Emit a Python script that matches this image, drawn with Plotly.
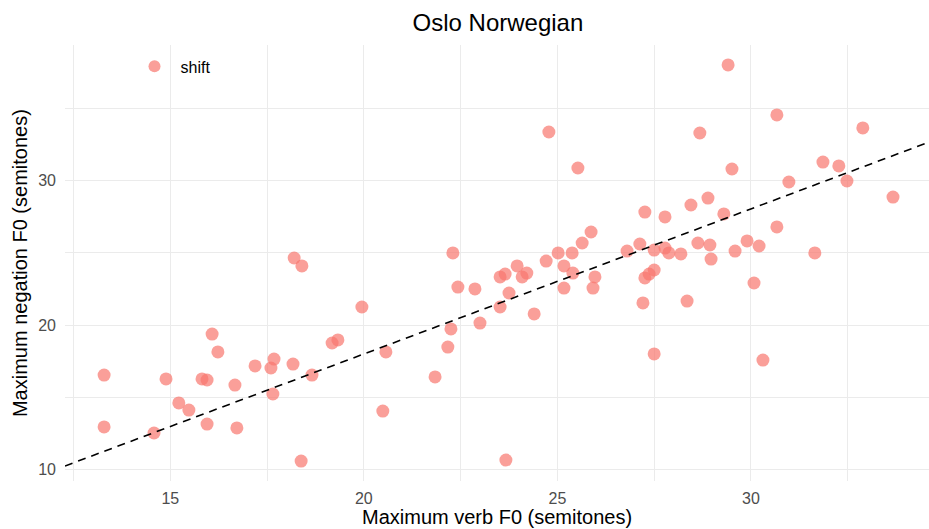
import plotly.graph_objects as go

# Maximum verb F0 (semitones) and Maximum negation F0 (semitones), condition "shift"
verb_f0 = [
    13.29, 13.29, 14.58, 14.89, 15.22, 15.48, 15.82, 15.95, 15.95, 16.08,
    16.23, 16.67, 16.72, 17.19, 17.60, 17.68, 17.65, 18.20, 18.40, 18.17,
    18.66, 18.38, 19.18, 19.33, 19.95, 20.57, 20.49, 21.84, 22.30, 22.43,
    22.87, 23.00, 22.25, 22.17, 23.52, 23.52, 23.65, 23.75, 23.96, 24.09,
    24.21, 24.40, 24.71, 25.02, 25.38, 25.17, 25.40, 25.17, 25.64, 25.87,
    25.97, 25.92, 25.53, 24.78, 23.67, 27.26, 27.78, 26.80, 27.13, 27.50,
    27.78, 27.88, 28.19, 28.45, 28.89, 29.30, 28.63, 28.94, 28.97, 29.59,
    29.90, 30.21, 30.67, 27.26, 27.37, 27.50, 27.21, 28.35, 27.50, 30.08,
    31.65, 33.67, 32.48, 30.98, 31.86, 32.27, 32.89, 30.67, 29.51, 28.68,
    29.41, 30.31,
]
neg_f0 = [
    16.55, 12.96, 12.54, 16.28, 14.62, 14.13, 16.28, 16.21, 13.16, 19.39,
    18.15, 15.86, 12.89, 17.18, 17.04, 17.66, 15.24, 24.65, 24.10, 17.31,
    16.55, 10.60, 18.77, 18.98, 21.26, 18.15, 14.06, 16.42, 25.00, 22.64,
    22.51, 20.15, 19.74, 18.49, 21.26, 23.34, 23.54, 22.23, 24.10, 23.34,
    23.61, 20.78, 24.44, 25.00, 25.00, 24.10, 23.61, 22.57, 25.69, 26.45,
    23.34, 22.57, 30.88, 33.37, 10.67, 27.83, 27.49, 25.13, 25.62, 25.20,
    25.34, 25.00, 24.93, 28.32, 28.80, 27.70, 25.69, 25.55, 24.58, 25.13,
    25.83, 25.48, 26.80, 23.27, 23.54, 23.82, 21.54, 21.67, 18.01, 22.92,
    25.00, 28.87, 29.98, 29.91, 31.29, 31.02, 33.65, 34.55, 30.81, 33.30,
    38.01, 17.59,
]
series_name = "shift"

# reference line (intercept, slope)
line_intercept = -2.07
line_slope = 1.004

x_range = [12.28, 34.6]
y_range = [9.22, 39.39]
x_ticks = [15, 20, 25, 30]
y_ticks = [10, 20, 30]

FONT = "Liberation Sans, Arial, Helvetica, sans-serif"

fig = go.Figure()
fig.add_trace(go.Scatter(
    x=verb_f0, y=neg_f0, mode="markers", name=series_name,
    marker=dict(color="#F8766D", opacity=0.7, size=13, line=dict(width=0)),
))
line_x = list(x_range)
line_y = [line_intercept + line_slope * v for v in line_x]
fig.add_trace(go.Scatter(
    x=line_x, y=line_y, mode="lines", showlegend=False,
    line=dict(color="black", width=1.6, dash="8px,6px"), hoverinfo="skip",
))

fig.update_layout(
    width=929, height=529,
    margin=dict(l=65, r=0, t=45, b=48, autoexpand=False),
    paper_bgcolor="white", plot_bgcolor="white",
    font=dict(family=FONT, color="black"),
    title=dict(text="Oslo Norwegian", x=0.536, xanchor="center",
               y=0.958, yanchor="middle", yref="container",
               font=dict(size=24, color="black", family=FONT)),
    showlegend=True,
    legend=dict(x=0.0735, y=0.99, xanchor="left", yanchor="top",
                bgcolor="rgba(0,0,0,0)", font=dict(size=16, color="black"),
                itemsizing="constant", itemwidth=42),
    xaxis=dict(
        range=x_range, tickvals=x_ticks, showline=False, zeroline=False,
        showgrid=True, gridcolor="#EBEBEB", gridwidth=1.3, ticks="",
        tickfont=dict(size=16, color="#4D4D4D"), automargin=False,
        minor=dict(showgrid=True, dtick=2.5, tick0=0, gridcolor="#EBEBEB", gridwidth=0.7),
        ticklabelstandoff=6,
    ),
    yaxis=dict(
        range=y_range, tickvals=y_ticks, showline=False, zeroline=False,
        showgrid=True, gridcolor="#EBEBEB", gridwidth=1.3, ticks="",
        tickfont=dict(size=16, color="#4D4D4D"), automargin=False,
        minor=dict(showgrid=True, dtick=5, tick0=0, gridcolor="#EBEBEB", gridwidth=0.7),
        ticklabelstandoff=8,
    ),
    annotations=[
        dict(text="Maximum verb F0 (semitones)", xref="paper", yref="paper",
             x=0.5, y=-0.083, xanchor="center", yanchor="middle", showarrow=False,
             font=dict(size=20, color="black", family=FONT)),
        dict(text="Maximum negation F0 (semitones)", xref="paper", yref="paper",
             x=-0.052, y=0.5, xanchor="center", yanchor="middle", showarrow=False,
             textangle=-90, font=dict(size=20, color="black", family=FONT)),
    ],
)

# remove the browser's default page margin so the 929x529 figure fills the window
fig.write_html(
    "out.html",
    config={"displayModeBar": False},
    post_script="document.body.style.margin='0';document.body.style.overflow='hidden';",
)
